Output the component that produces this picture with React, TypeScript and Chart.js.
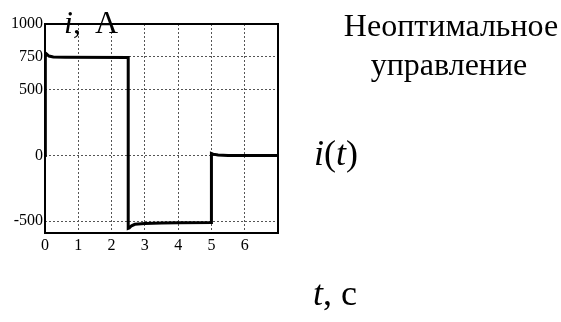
import React, { useEffect, useRef } from "react";
import { Chart, registerables } from "chart.js";

Chart.register(...registerables);

// Current transient i(t), A versus time t, s
const timeS = [0, 0.0, 0.02, 0.06, 0.12, 0.25, 0.6, 2.5, 2.5, 2.53, 2.6, 2.7, 3.0, 3.5, 4.0, 5.0, 5.0, 5.05, 5.2, 5.5, 7.0];
const currentA = [0, 785, 782, 768, 756, 749, 747, 745, -555, -552, -535, -524, -517, -513, -512, -510, 15, 10, 3, 0, 0];

const yTicks = [1000, 750, 500, 0, -500];
const xTicks = [0, 1, 2, 3, 4, 5, 6, 7];
const xTickLabels = ["0", "1", "2", "3", "4", "5", "6", ""];

const SERIF = "'Liberation Serif', 'Times New Roman', serif";

function drawRich(ctx: any, parts: [string, boolean][], x: number, y: number, size: number) {
  for (const [s, it] of parts) {
    ctx.font = `${it ? "italic " : ""}${size}px ${SERIF}`;
    ctx.fillText(s, x, y);
    x += ctx.measureText(s).width;
  }
}

const framePlugin = {
  id: "frameAndText",
  afterDraw(chart: any) {
    const { ctx, chartArea } = chart;
    ctx.save();
    ctx.strokeStyle = "#000";
    ctx.lineWidth = 2;
    ctx.strokeRect(chartArea.left, chartArea.top, chartArea.right - chartArea.left, chartArea.bottom - chartArea.top);

    ctx.fillStyle = "#000";
    ctx.textBaseline = "alphabetic";
    ctx.textAlign = "left";

    // axis label "i, A"
    drawRich(ctx, [["i", true], [",", false]], 64, 33, 32);
    ctx.font = `32px ${SERIF}`;
    ctx.fillText("A", 95, 33);

    // caption
    ctx.textAlign = "center";
    ctx.font = `32px ${SERIF}`;
    ctx.fillText("Неоптимальное", 451, 36);
    ctx.fillText("управление", 449, 75);

    // curve name and time axis label
    ctx.textAlign = "left";
    drawRich(ctx, [["i", true], ["(", false], ["t", true], [")", false]], 314, 165, 36);
    drawRich(ctx, [["t", true], [", c", false]], 313, 305, 36);
    ctx.restore();
  },
};

export default function App() {
  const canvasRef = useRef<HTMLCanvasElement | null>(null);

  useEffect(() => {
    document.body.style.margin = "0";
    const canvas = canvasRef.current;
    if (!canvas) return;
    const chart = new Chart(canvas, {
      type: "line",
      data: {
        datasets: [
          {
            data: timeS.map((t, i) => ({ x: t, y: currentA[i] })),
            borderColor: "#000",
            borderWidth: 3,
            pointRadius: 0,
            tension: 0,
            fill: false,
          },
        ],
      },
      options: {
        responsive: false,
        animation: false,
        events: [],
        layout: { padding: { left: 0, right: 283, top: 24, bottom: 64 } },
        plugins: { legend: { display: false }, tooltip: { enabled: false } },
        scales: {
          x: {
            type: "linear",
            min: 0,
            max: 7,
            afterBuildTicks: (s: any) => {
              s.ticks = xTicks.map((v) => ({ value: v }));
            },
            afterFit: (s: any) => {
              s.height = 25;
            },
            ticks: {
              color: "#000",
              font: { family: SERIF, size: 16 },
              padding: 3,
              maxRotation: 0,
              autoSkip: false,
              callback: (v: any) => xTickLabels[xTicks.indexOf(Number(v))] ?? "",
            },
            grid: { color: "#555", lineWidth: 1, drawTicks: false },
            border: { display: false, dash: [2, 2] },
          },
          y: {
            type: "linear",
            min: -590,
            max: 1000,
            afterBuildTicks: (s: any) => {
              s.ticks = yTicks.map((v) => ({ value: v }));
            },
            afterFit: (s: any) => {
              s.width = 45;
            },
            ticks: {
              color: "#000",
              font: { family: SERIF, size: 16 },
              padding: 2,
              autoSkip: false,
              callback: (v: any) => String(v),
            },
            grid: { color: "#555", lineWidth: 1, drawTicks: false },
            border: { display: false, dash: [2, 2] },
          },
        },
      },
      plugins: [framePlugin],
    });
    return () => chart.destroy();
  }, []);

  return <canvas ref={canvasRef} width={561} height={322} style={{ display: "block" }} />;
}
